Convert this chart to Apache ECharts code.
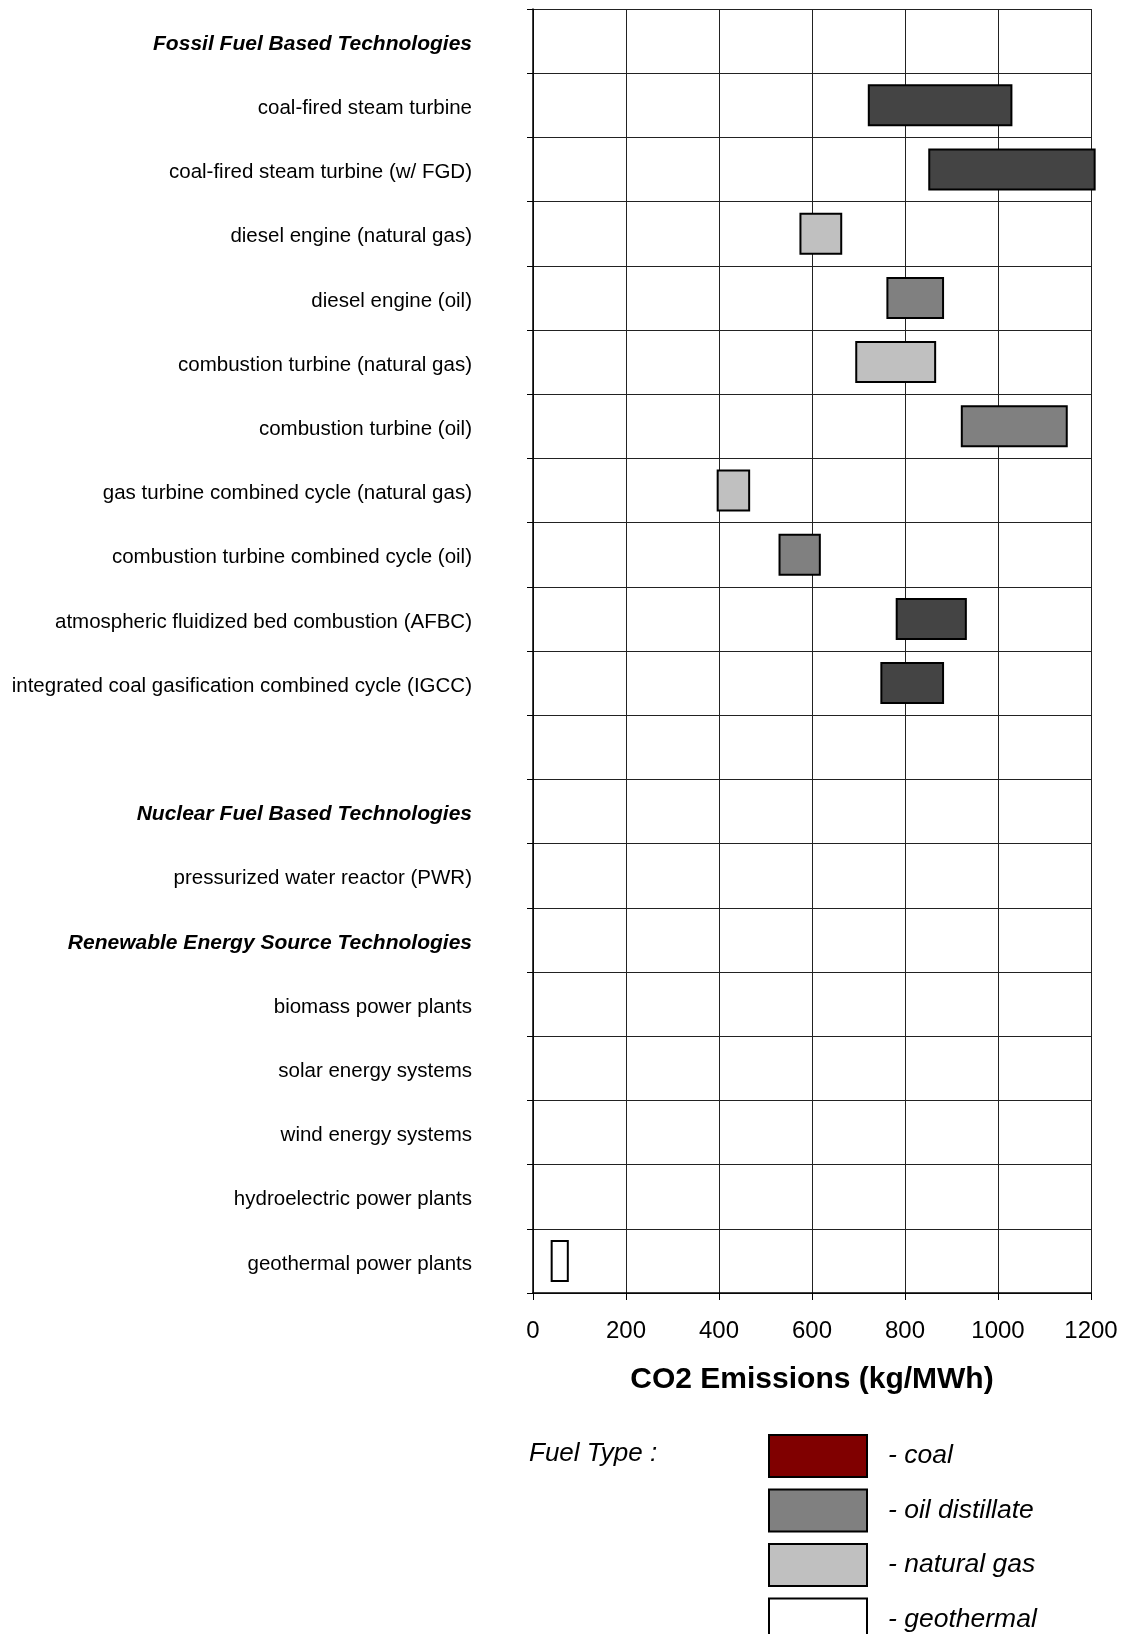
<!DOCTYPE html>
<html>
<head>
<meta charset="utf-8">
<script src="https://cdn.jsdelivr.net/npm/echarts@6/dist/echarts.min.js"></script>
<style>
  html, body { margin: 0; padding: 0; background: #fff; }
  #chart { width: 1130px; height: 1634px; }
</style>
</head>
<body>
<div id="chart"></div>
<script>
// Technologies, top to bottom (empty string = spacer row)
const categories = [
  'Fossil Fuel Based Technologies',
  'coal-fired steam turbine',
  'coal-fired steam turbine (w/ FGD)',
  'diesel engine (natural gas)',
  'diesel engine (oil)',
  'combustion turbine (natural gas)',
  'combustion turbine (oil)',
  'gas turbine combined cycle (natural gas)',
  'combustion turbine combined cycle (oil)',
  'atmospheric fluidized bed combustion (AFBC)',
  'integrated coal gasification combined cycle (IGCC)',
  '',
  'Nuclear Fuel Based Technologies',
  'pressurized water reactor (PWR)',
  'Renewable Energy Source Technologies',
  'biomass power plants',
  'solar energy systems',
  'wind energy systems',
  'hydroelectric power plants',
  'geothermal power plants'
];

const sectionHeaders = [
  'Fossil Fuel Based Technologies',
  'Nuclear Fuel Based Technologies',
  'Renewable Energy Source Technologies'
];

// CO2 emission range per technology (kg/MWh)
const lowValues  = ['-', 720, 850, 573, 760, 693, 920, 395, 528, 780, 747, '-', '-', '-', '-', '-', '-', '-', '-', 38];
const highValues = ['-', 1031, 1210, 665, 884, 867, 1150, 467, 619, 933, 884, '-', '-', '-', '-', '-', '-', '-', '-', 77];
const fuelOfRow  = [null, 'coal', 'coal', 'natural gas', 'oil distillate', 'natural gas', 'oil distillate',
                    'natural gas', 'oil distillate', 'coal', 'coal', null, null, null, null, null, null, null, null, 'geothermal'];

const fuelNames    = ['coal', 'oil distillate', 'natural gas', 'geothermal'];
const fuelColors   = ['#444444', '#808080', '#c0c0c0', '#ffffff'];
const legendColors = ['#800000', '#808080', '#c0c0c0', '#ffffff'];

const xTicks = { min: 0, max: 1200, interval: 200 };

const chart = echarts.init(document.getElementById('chart'), null, { renderer: 'canvas' });

// invisible offset bar so each visible bar floats from its low value
const baseSeries = {
  name: 'base',
  type: 'bar',
  stack: 'range',
  silent: true,
  barWidth: 42,
  itemStyle: { color: 'transparent', borderWidth: 0 },
  data: lowValues.map((v, i) => (fuelOfRow[i] ? v : '-'))
};

const fuelSeries = fuelNames.map((name, k) => ({
  name: name,
  type: 'bar',
  stack: 'range',
  clip: false,
  barWidth: 42,
  itemStyle: { color: fuelColors[k], borderColor: '#000', borderWidth: 2 },
  emphasis: { disabled: true },
  data: highValues.map((h, i) => (fuelOfRow[i] === name ? h - lowValues[i] : '-'))
}));

const option = {
  animation: false,
  backgroundColor: '#ffffff',
  textStyle: { fontFamily: 'Liberation Sans, Arial, sans-serif', color: '#000' },
  grid: { left: 533, right: 39, top: 9, bottom: 341, containLabel: false },
  title: {
    text: 'Fuel Type :',
    left: 524,
    top: 1436,
    textStyle: { fontFamily: 'Liberation Sans', fontStyle: 'italic', fontWeight: 'normal', fontSize: 26, color: '#000' }
  },
  legend: {
    orient: 'vertical',
    left: 768,
    top: 1434,
    height: 260,
    padding: 0,
    itemWidth: 98,
    itemHeight: 42,
    itemGap: 10.5,
    icon: 'rect',
    selectedMode: false,
    formatter: '- {name}',
    textStyle: { fontFamily: 'Liberation Sans', fontStyle: 'italic', fontSize: 26.5, color: '#000', padding: [0, 0, 0, 16] },
    data: fuelNames.map((n, k) => ({
      name: n,
      itemStyle: { color: legendColors[k], borderColor: '#000', borderWidth: 2 }
    }))
  },
  xAxis: {
    type: 'value',
    min: xTicks.min,
    max: xTicks.max,
    interval: xTicks.interval,
    name: 'CO2 Emissions (kg/MWh)',
    nameLocation: 'middle',
    nameGap: 72,
    nameTextStyle: { fontFamily: 'Liberation Sans', fontWeight: 'bold', fontSize: 30, color: '#000' },
    axisLine: { show: true, lineStyle: { color: '#000', width: 1.5 } },
    axisTick: { show: true, length: 7, lineStyle: { color: '#000', width: 1 } },
    axisLabel: { fontFamily: 'Liberation Sans', fontSize: 24, color: '#000', margin: 26, formatter: (v) => String(v) },
    splitLine: { show: true, lineStyle: { color: '#222', width: 1 } }
  },
  yAxis: {
    type: 'category',
    inverse: true,
    data: categories,
    axisLine: { show: true, lineStyle: { color: '#000', width: 1.5 } },
    axisTick: { show: true, length: 6, alignWithLabel: false, lineStyle: { color: '#000', width: 1 } },
    axisLabel: {
      margin: 61,
      fontFamily: 'Liberation Sans',
      fontSize: 20.5,
      color: '#000',
      align: 'right',
      padding: [6, 0, 0, 0],
      formatter: (v) => (sectionHeaders.includes(v) ? '{h|' + v + '}' : v),
      rich: {
        h: { fontFamily: 'Liberation Sans', fontSize: 21, fontWeight: 'bold', fontStyle: 'italic', color: '#000' }
      }
    },
    splitLine: { show: true, lineStyle: { color: '#222', width: 1 } }
  },
  series: [baseSeries].concat(fuelSeries)
};

chart.setOption(option);
</script>
</body>
</html>
